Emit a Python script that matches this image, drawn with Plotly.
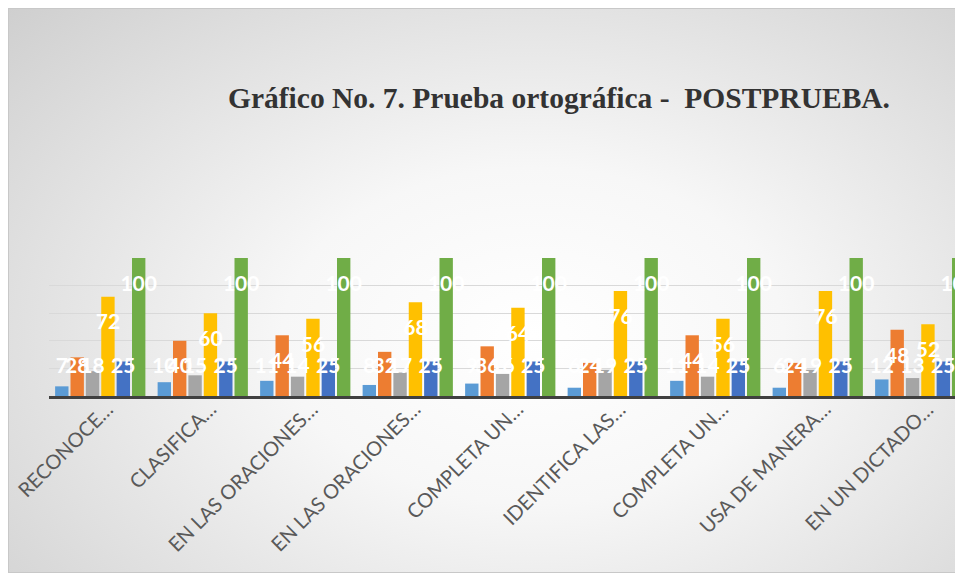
import plotly.graph_objects as go

categories = ["RECONOCE…", "CLASIFICA…", "EN LAS ORACIONES…", "EN LAS ORACIONES…",
              "COMPLETA UN…", "IDENTIFICA LAS…", "COMPLETA UN…", "USA DE MANERA…",
              "EN UN DICTADO…"]
no_count = [7, 10, 11, 8, 9, 6, 11, 6, 12]
no_pct = [28, 40, 44, 32, 36, 24, 44, 24, 48]
yes_count = [18, 15, 14, 17, 16, 19, 14, 19, 13]
yes_pct = [72, 60, 56, 68, 64, 76, 56, 76, 52]
total_count = [25, 25, 25, 25, 25, 25, 25, 25, 25]
total_pct = [100, 100, 100, 100, 100, 100, 100, 100, 100]

series = [
    ("No (n)", no_count, "#5B9BD5"),
    ("No (%)", no_pct, "#ED7D31"),
    ("Sí (n)", yes_count, "#A5A5A5"),
    ("Sí (%)", yes_pct, "#FFC000"),
    ("Total (n)", total_count, "#4472C4"),
    ("Total (%)", total_pct, "#70AD47"),
]

W, H = 955, 565
ML, MT, MB = 41, 250, 177
cat_px = 102.5
x_max = -0.5 + (W - ML) / cat_px

slot = 0.9 / len(series)
bar_w = slot * 0.87

fig = go.Figure()
xs_idx = list(range(len(categories)))
for j, (name, vals, col) in enumerate(series):
    off = (j - (len(series) - 1) / 2) * slot
    fig.add_trace(go.Bar(
        x=[i + off for i in xs_idx], y=vals, width=bar_w, name=name,
        marker=dict(color=col, line=dict(width=0)), hoverinfo="y",
    ))
for j, (name, vals, col) in enumerate(series):
    off = (j - (len(series) - 1) / 2) * slot
    fig.add_trace(go.Scatter(
        x=[i + off for i in xs_idx], y=[max(v - 20, 20.5) for v in vals],
        text=[str(v) for v in vals], mode="text", textposition="middle center",
        textfont=dict(family="Lato", size=21, color="white", weight="bold"),
        cliponaxis=False, hoverinfo="skip", showlegend=False,
    ))

for i, lab in zip(xs_idx, categories):
    fig.add_annotation(
        x=i, y=0, xref="x", yref="y", text=lab, showarrow=False, textangle=-45,
        xanchor="right", yanchor="top", xshift=20, yshift=2,
        font=dict(family="Lato", size=20, color="#595959"),
    )

fig.update_layout(
    width=W, height=H, barmode="overlay", showlegend=False,
    margin=dict(l=ML, r=0, t=MT, b=MB, pad=0),
    paper_bgcolor="rgba(0,0,0,0)", plot_bgcolor="rgba(0,0,0,0)",
    title=dict(text="Gráfico No. 7. Prueba ortográfica -\u00a0\u00a0POSTPRUEBA.",
               font=dict(family="Liberation Serif", size=29.5, color="#333333", weight="bold"),
               xref="container", yref="container", x=551 / W, xanchor="center",
               y=1 - 90 / H, yanchor="middle"),
    xaxis=dict(range=[-0.5, x_max], tickmode="array", tickvals=xs_idx,
               showticklabels=False,
               showgrid=False, zeroline=False, showline=True, linecolor="#404040",
               linewidth=3, ticks=""),
    yaxis=dict(range=[0, 100], tickvals=[20, 40, 60, 80, 100], showticklabels=False,
               showgrid=True, gridcolor="#d9d9d9", gridwidth=1, zeroline=False,
               showline=False, ticks=""),
)

post = """
var gd = document.getElementById('{plot_id}');
var s = gd.querySelector('.main-svg');
s.style.background = 'radial-gradient(ellipse 75% 85% at 55% 58%, #ffffff 0%, #f7f7f7 35%, #cfcfcf 100%)';
s.style.boxShadow = 'inset 1px 1px 0 #c8c8c8, inset 0 -1px 0 #c8c8c8';
"""

fig.write_html("out.html", post_script=post)
